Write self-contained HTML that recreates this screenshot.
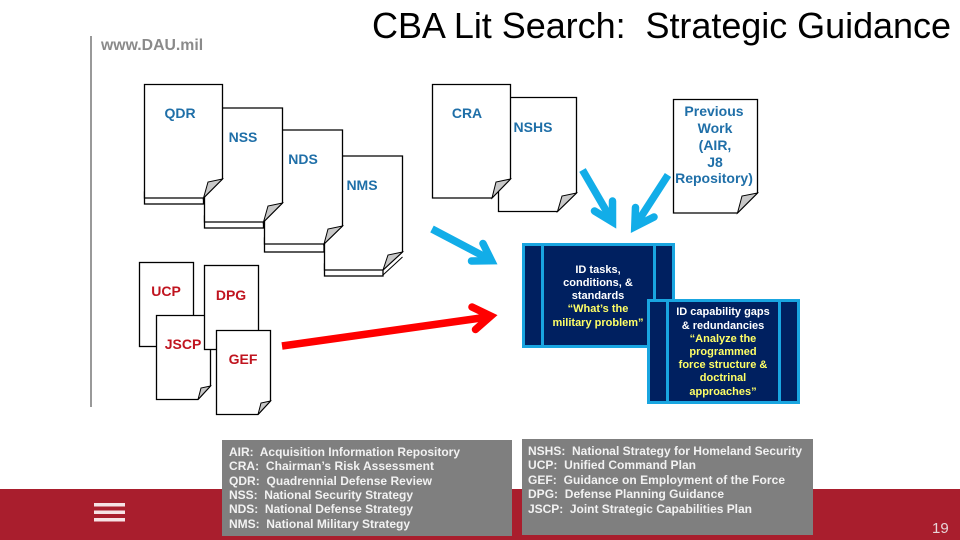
<!DOCTYPE html>
<html><head><meta charset="utf-8"><style>
html,body{margin:0;padding:0;background:#fff}
svg{display:block}
text{font-family:"Liberation Sans",sans-serif}
.d{fill:#fff;stroke:#000;stroke-width:1.3}
.f{fill:#c8c8c8;stroke:#000;stroke-width:1}
.b{font-weight:bold;font-size:14px;fill:#1f6fa8;text-anchor:middle}
.r{font-weight:bold;font-size:14px;fill:#c0141f;text-anchor:middle}
.w{font-weight:bold;font-size:11px;fill:#fff;text-anchor:middle}
.y{font-weight:bold;font-size:11px;fill:#ffff66;text-anchor:middle}
.l{font-weight:bold;font-size:12px;fill:#f2f2f2}
.ab{fill:none;stroke:#12ade8;stroke-width:7.5;stroke-linejoin:miter;stroke-linecap:round}
.ar{fill:none;stroke:#f00;stroke-width:7.5;stroke-linejoin:miter;stroke-linecap:round}
.s{stroke-linecap:butt}
</style></head><body>
<svg width="960" height="540" viewBox="0 0 960 540" xmlns="http://www.w3.org/2000/svg">
<rect width="960" height="540" fill="#fff"/>
<rect x="0" y="489" width="960" height="51" fill="#a91e2d"/>
<rect x="94" y="503" width="31" height="3.5" fill="#f6e3e5"/>
<rect x="94" y="510.5" width="31" height="3.5" fill="#f6e3e5"/>
<rect x="94" y="518" width="31" height="3.5" fill="#f6e3e5"/>
<rect x="90" y="36" width="2" height="371" fill="#999"/>
<text x="101" y="50" font-size="15.8" font-weight="bold" fill="#8a8a8a">www.DAU.mil</text>
<text x="372" y="38" font-size="36" fill="#000" xml:space="preserve" textLength="579">CBA Lit Search:  Strategic Guidance</text>

<!-- NMS -->
<rect class="d" x="324.5" y="264" width="58.5" height="12"/>
<polygon class="d" points="324.5,156 402.5,156 402.5,252 383,270 324.5,270"/>
<path class="f" d="M402.5,252 L388,255 L383,270 Z"/>
<path d="M402.5,257 L383,275" stroke="#000" fill="none"/>
<!-- NDS -->
<rect class="d" x="264.5" y="238" width="59.5" height="14"/>
<polygon class="d" points="264.5,130 342.5,130 342.5,226 324,244 264.5,244"/>
<path class="f" d="M342.5,226 L328,229 L324,244 Z"/>
<!-- NSS -->
<rect class="d" x="204.5" y="216" width="59" height="12"/>
<polygon class="d" points="204.5,108 282.5,108 282.5,203 263.5,222 204.5,222"/>
<path class="f" d="M282.5,203 L268,206 L263.5,222 Z"/>
<!-- QDR -->
<rect class="d" x="144.5" y="192" width="59" height="12"/>
<polygon class="d" points="144.5,84.5 222.5,84.5 222.5,179 203.5,198 144.5,198"/>
<path class="f" d="M222.5,179 L208,182 L203.5,198 Z"/>

<!-- NSHS -->
<polygon class="d" points="498.5,97.5 576.5,97.5 576.5,193 557.5,211.5 498.5,211.5"/>
<path class="f" d="M576.5,193 L562,196 L557.5,211.5 Z"/>
<!-- CRA -->
<polygon class="d" points="432.5,84.5 510.5,84.5 510.5,179 492,198 432.5,198"/>
<path class="f" d="M510.5,179 L496,182 L492,198 Z"/>
<!-- Previous -->
<polygon class="d" points="673.5,99.5 757.5,99.5 757.5,193 737.5,213 673.5,213"/>
<path class="f" d="M757.5,193 L742,196 L737.5,213 Z"/>

<!-- UCP, JSCP, DPG, GEF -->
<rect class="d" x="139.5" y="262.5" width="54" height="84"/>
<polygon class="d" points="156.5,315.5 210.5,315.5 210.5,386 198,399.5 156.5,399.5"/>
<path class="f" d="M210.5,386 L201,388 L198,399.5 Z"/>
<rect class="d" x="204.5" y="265.5" width="54" height="84"/>
<polygon class="d" points="216.5,330.5 270.5,330.5 270.5,401 258,414.5 216.5,414.5"/>
<path class="f" d="M270.5,401 L261,403 L258,414.5 Z"/>

<text class="b" x="180" y="118">QDR</text>
<text class="b" x="243" y="142">NSS</text>
<text class="b" x="303" y="164">NDS</text>
<text class="b" x="362" y="190">NMS</text>
<text class="b" x="467" y="118">CRA</text>
<text class="b" x="533" y="132">NSHS</text>
<text class="b" x="714" y="116">Previous</text>
<text class="b" x="715" y="133">Work</text>
<text class="b" x="715" y="150">(AIR,</text>
<text class="b" x="715" y="167">J8</text>
<text class="b" x="714" y="183">Repository)</text>
<text class="r" x="166" y="296">UCP</text>
<text class="r" x="183" y="349">JSCP</text>
<text class="r" x="231" y="300">DPG</text>
<text class="r" x="243" y="364">GEF</text>

<!-- arrows -->
<path class="ab s" d="M582.5,170 L611,219"/>
<polyline class="ab" points="594.5,211 612.5,222 612.5,201"/>
<path class="ab s" d="M668,175 L637,223"/>
<polyline class="ab" points="635.5,207.5 634.8,226.8 654,217"/>
<path class="ab s" d="M432,229 L488,258.5"/>
<polyline class="ab" points="483,243.5 491.5,260.7 471.5,261"/>
<path class="ar s" d="M282,346 L488,317"/>
<polyline class="ar" points="472,307 490.8,316 475.5,329.5"/>

<!-- Box 1 -->
<rect x="523.5" y="244.5" width="150" height="102" fill="#002060" stroke="#19a5e0" stroke-width="3"/>
<rect x="541" y="245" width="3" height="101" fill="#19a5e0"/>
<rect x="653" y="245" width="3" height="101" fill="#19a5e0"/>
<text class="w" x="598" y="273">ID tasks,</text>
<text class="w" x="598" y="286">conditions, &amp;</text>
<text class="w" x="598" y="299">standards</text>
<text class="y" x="598" y="312">“What’s the</text>
<text class="y" x="598" y="326">military problem”</text>
<!-- Box 2 -->
<rect x="648.5" y="300.5" width="150" height="102" fill="#002060" stroke="#19a5e0" stroke-width="3"/>
<rect x="666" y="301" width="3" height="101" fill="#19a5e0"/>
<rect x="778" y="301" width="3" height="101" fill="#19a5e0"/>
<text class="w" x="723" y="315">ID capability gaps</text>
<text class="w" x="723" y="329">&amp; redundancies</text>
<text class="y" x="723" y="342">“Analyze the</text>
<text class="y" x="723" y="355">programmed</text>
<text class="y" x="723" y="368">force structure &amp;</text>
<text class="y" x="723" y="381">doctrinal</text>
<text class="y" x="723" y="395">approaches”</text>

<!-- Legends -->
<rect x="222" y="440" width="290" height="96" fill="#7f7f7f"/>
<text class="l" x="229" y="456" textLength="231" xml:space="preserve">AIR:  Acquisition Information Repository</text>
<text class="l" x="229" y="470" textLength="205" xml:space="preserve">CRA:  Chairman’s Risk Assessment</text>
<text class="l" x="229" y="485" textLength="203" xml:space="preserve">QDR:  Quadrennial Defense Review</text>
<text class="l" x="229" y="499" textLength="184" xml:space="preserve">NSS:  National Security Strategy</text>
<text class="l" x="229" y="513" textLength="184" xml:space="preserve">NDS:  National Defense Strategy</text>
<text class="l" x="229" y="528" textLength="181" xml:space="preserve">NMS:  National Military Strategy</text>
<rect x="522" y="439" width="291" height="96" fill="#7f7f7f"/>
<text class="l" x="528" y="455" textLength="274" xml:space="preserve">NSHS:  National Strategy for Homeland Security</text>
<text class="l" x="528" y="469" textLength="168" xml:space="preserve">UCP:  Unified Command Plan</text>
<text class="l" x="528" y="484" textLength="257" xml:space="preserve">GEF:  Guidance on Employment of the Force</text>
<text class="l" x="528" y="498" textLength="196" xml:space="preserve">DPG:  Defense Planning Guidance</text>
<text class="l" x="528" y="513" textLength="224" xml:space="preserve">JSCP:  Joint Strategic Capabilities Plan</text>

<text x="932" y="533" font-size="15" fill="#e8d5d7">19</text>
</svg>
</body></html>
